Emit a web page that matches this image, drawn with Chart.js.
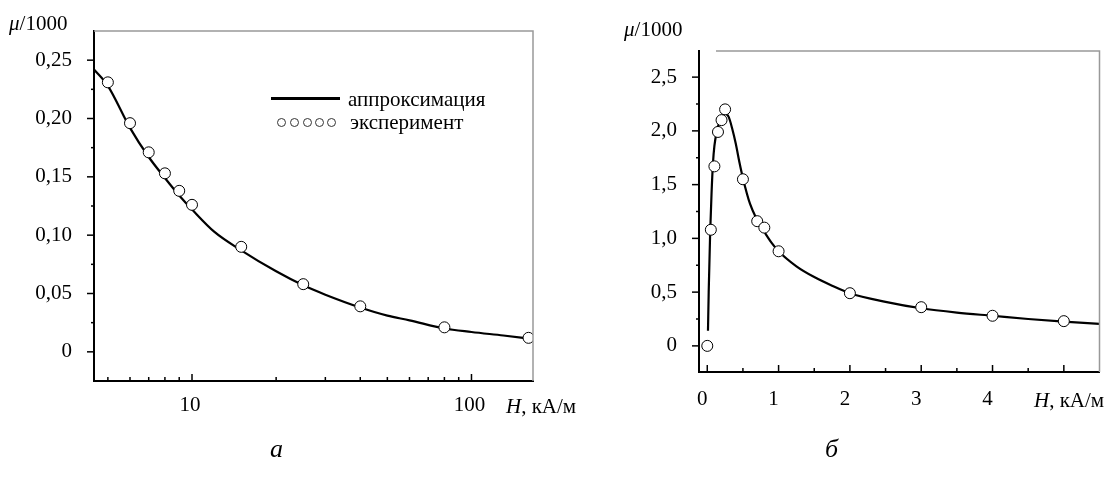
<!DOCTYPE html>
<html>
<head>
<meta charset="utf-8">
<script src="https://cdn.jsdelivr.net/npm/chart.js@4/dist/chart.umd.min.js"></script>
<style>
  body { margin: 0; background: #fff; }
  #wrap { position: relative; width: 1106px; height: 478px; overflow: hidden; font-family: 'Liberation Serif', 'Times New Roman', serif; color: #000; }
  canvas { position: absolute; top: 0; }
  .lbl { position: absolute; white-space: nowrap; transform: translateY(-50%); line-height: 1; }
  .c { position: absolute; width: 7px; height: 7px; border: 1px solid #333; border-radius: 50%; top: 118px; }
</style>
</head>
<body>
<div id="wrap">
  <canvas id="left" width="553" height="478" style="left:0"></canvas>
  <canvas id="right" width="553" height="478" style="left:553px"></canvas>

  <div class="lbl" style="left:9px;top:23px;font-size:21px"><i>μ</i>/1000</div>
  <div class="lbl" style="left:624px;top:29px;font-size:21px"><i>μ</i>/1000</div>
  <div class="lbl" style="left:506px;top:406px;font-size:21px"><i>H</i>, кА/м</div>
  <div class="lbl" style="left:1034px;top:400px;font-size:21px"><i>H</i>, кА/м</div>
  <div class="lbl" style="left:270px;top:449px;font-size:26px"><i>а</i></div>
  <div class="lbl" style="left:825px;top:449px;font-size:26px"><i>б</i></div>

  <!-- legend of the left chart -->
  <div style="position:absolute;left:271px;top:97px;width:69px;height:3px;background:#000"></div>
  <div class="lbl" style="left:348px;top:99px;font-size:21px">аппроксимация</div>
  <div class="c" style="left:277px"></div>
  <div class="c" style="left:290px"></div>
  <div class="c" style="left:303px"></div>
  <div class="c" style="left:315px"></div>
  <div class="c" style="left:327px"></div>
  <div class="lbl" style="left:350px;top:122px;font-size:21px">эксперимент</div>
</div>
<script>
// left chart (log H axis)
const lxCurve = [4.46, 5, 6, 7, 8, 9, 10, 12, 15, 20, 25, 30, 40, 50, 60, 80, 100, 130, 166];
const lyCurve = [0.242, 0.228, 0.192, 0.167, 0.149, 0.134, 0.122, 0.103, 0.087, 0.069, 0.057, 0.049, 0.038, 0.031, 0.027, 0.020, 0.017, 0.014, 0.011];
const lxExp = [5, 6, 7, 8, 9, 10, 15, 25, 40, 80, 160];
const lyExp = [0.231, 0.196, 0.171, 0.153, 0.138, 0.126, 0.090, 0.058, 0.039, 0.021, 0.012];
const lyTicks = [0, 0.05, 0.10, 0.15, 0.20, 0.25];
const lyLabels = ['0', '0,05', '0,10', '0,15', '0,20', '0,25'];
const lyMinor = [0.025, 0.075, 0.125, 0.175, 0.225];
const lxTicks = [10, 100];
const lxLabels = ['10', '100'];
const lxMinor = [5, 6, 7, 8, 9, 20, 30, 40, 50, 60, 70, 80, 90];

// right chart (linear H axis)
const rxCurve = [0.01, 0.02, 0.04, 0.06, 0.08, 0.1, 0.136, 0.18, 0.25, 0.3, 0.35, 0.4, 0.45, 0.5, 0.6, 0.7, 0.8, 0.9, 1.0, 1.25, 1.5, 1.75, 2.0, 2.5, 3.0, 3.5, 4.0, 4.5, 5.0, 5.5];
const ryCurve = [0.14, 0.5, 1.04, 1.42, 1.7, 1.86, 2.0, 2.1, 2.16, 2.13, 2.02, 1.88, 1.71, 1.56, 1.32, 1.17, 1.06, 0.96, 0.88, 0.74, 0.64, 0.56, 0.49, 0.41, 0.35, 0.31, 0.28, 0.25, 0.225, 0.205];
const rxExp = [0, 0.05, 0.1, 0.15, 0.2, 0.25, 0.5, 0.7, 0.8, 1, 2, 3, 4, 5];
const ryExp = [0, 1.08, 1.67, 1.99, 2.10, 2.20, 1.55, 1.16, 1.10, 0.88, 0.49, 0.36, 0.28, 0.23];
const ryTicks = [0, 0.5, 1, 1.5, 2, 2.5];
const ryLabels = ['0', '0,5', '1,0', '1,5', '2,0', '2,5'];
const ryMinor = [0.25, 0.75, 1.25, 1.75, 2.25];
const rxTicks = [0, 1, 2, 3, 4];
const rxLabels = ['0', '1', '2', '3', '4'];
const rxMajor = [0, 1, 2, 3, 4, 5];
const rxMinor = [0.5, 1.5, 2.5, 3.5, 4.5];

Chart.defaults.font.family = "'Liberation Serif', 'Times New Roman', serif";
Chart.defaults.font.size = 21;
Chart.defaults.color = '#000';

const pts = (xs, ys) => xs.map((x, i) => ({x: x, y: ys[i]}));

// tick marks and the thin grey frame
const frame = {
  id: 'frame',
  afterDraw(chart, args, o) {
    const {ctx, chartArea: a} = chart;
    const x = chart.scales.x, y = chart.scales.y;
    ctx.save();
    ctx.strokeStyle = '#999';
    ctx.lineWidth = 1.5;
    ctx.beginPath();
    ctx.moveTo(a.left + o.topGap, a.top);
    ctx.lineTo(a.right, a.top);
    ctx.lineTo(a.right, a.bottom);
    ctx.stroke();

    ctx.strokeStyle = '#000';
    ctx.lineWidth = 1.5;
    const line = (x0, y0, x1, y1) => { ctx.beginPath(); ctx.moveTo(x0, y0); ctx.lineTo(x1, y1); ctx.stroke(); };
    o.yMajor.forEach(v => { const p = y.getPixelForValue(v); line(a.left, p, a.left - 7, p); });
    o.yMinor.forEach(v => { const p = y.getPixelForValue(v); line(a.left, p, a.left - 3, p); });
    o.xMajor.forEach(v => { const p = x.getPixelForValue(v); line(p, a.bottom, p, a.bottom - 7); });
    o.xMinor.forEach(v => { const p = x.getPixelForValue(v); line(p, a.bottom, p, a.bottom - 4); });
    ctx.restore();
  }
};

function makeChart(id, cfg) {
  return new Chart(document.getElementById(id), {
    type: 'scatter',
    data: {
      datasets: [
        { data: cfg.exp, showLine: false, pointRadius: 5.5, pointBackgroundColor: '#fff', pointBorderColor: '#000', pointBorderWidth: 1, order: 0 },
        { data: cfg.curve, showLine: true, pointRadius: 0, borderColor: '#000', borderWidth: 2.2, cubicInterpolationMode: 'monotone', order: 1 }
      ]
    },
    options: {
      responsive: false,
      animation: false,
      devicePixelRatio: 1,
      layout: { padding: cfg.padding },
      plugins: { legend: { display: false }, tooltip: { enabled: false }, frame: cfg.frame },
      scales: {
        x: {
          type: cfg.xType, min: cfg.xMin, max: cfg.xMax,
          grid: { display: false, drawTicks: false },
          border: { display: true, color: '#000', width: 2 },
          afterBuildTicks: s => { s.ticks = cfg.xTicks.map(v => ({value: v})); },
          afterFit: s => { s.height = 40; s.paddingLeft = 0; s.paddingRight = 0; },
          ticks: { padding: cfg.xPad, labelOffset: cfg.xOff, maxRotation: 0, autoSkip: false,
                   callback: (v) => cfg.xLabels[cfg.xTicks.indexOf(v)] }
        },
        y: {
          min: cfg.yMin, max: cfg.yMax,
          grid: { display: false, drawTicks: false },
          border: { display: true, color: '#000', width: 2 },
          afterBuildTicks: s => { s.ticks = cfg.yTicks.map(v => ({value: v})); },
          afterFit: s => { s.width = cfg.yWidth; s.paddingTop = 0; s.paddingBottom = 0; },
          ticks: { padding: cfg.yPad, autoSkip: false,
                   callback: (v) => cfg.yLabels[cfg.yTicks.indexOf(v)] }
        }
      }
    },
    plugins: [frame]
  });
}

makeChart('left', {
  exp: pts(lxExp, lyExp), curve: pts(lxCurve, lyCurve),
  xType: 'logarithmic', xMin: 4.46, xMax: 166, xTicks: lxTicks, xLabels: lxLabels, xPad: 12, xOff: -2,
  yMin: -0.025, yMax: 0.275, yTicks: lyTicks, yLabels: lyLabels, yPad: 22, yWidth: 94,
  padding: { left: 0, top: 31, right: 20, bottom: 57 },
  frame: { topGap: 0, yMajor: lyTicks, yMinor: lyMinor, xMajor: lxTicks, xMinor: lxMinor }
});

makeChart('right', {
  exp: pts(rxExp, ryExp), curve: pts(rxCurve, ryCurve),
  xType: 'linear', xMin: -0.116, xMax: 5.5, xTicks: rxTicks, xLabels: rxLabels, xPad: 15, xOff: -5,
  yMin: -0.243, yMax: 2.743, yTicks: ryTicks, yLabels: ryLabels, yPad: 22, yWidth: 146,
  padding: { left: 0, top: 51, right: 5, bottom: 66 },
  frame: { topGap: 17, yMajor: ryTicks, yMinor: ryMinor, xMajor: rxMajor, xMinor: rxMinor }
});
</script>
</body>
</html>
